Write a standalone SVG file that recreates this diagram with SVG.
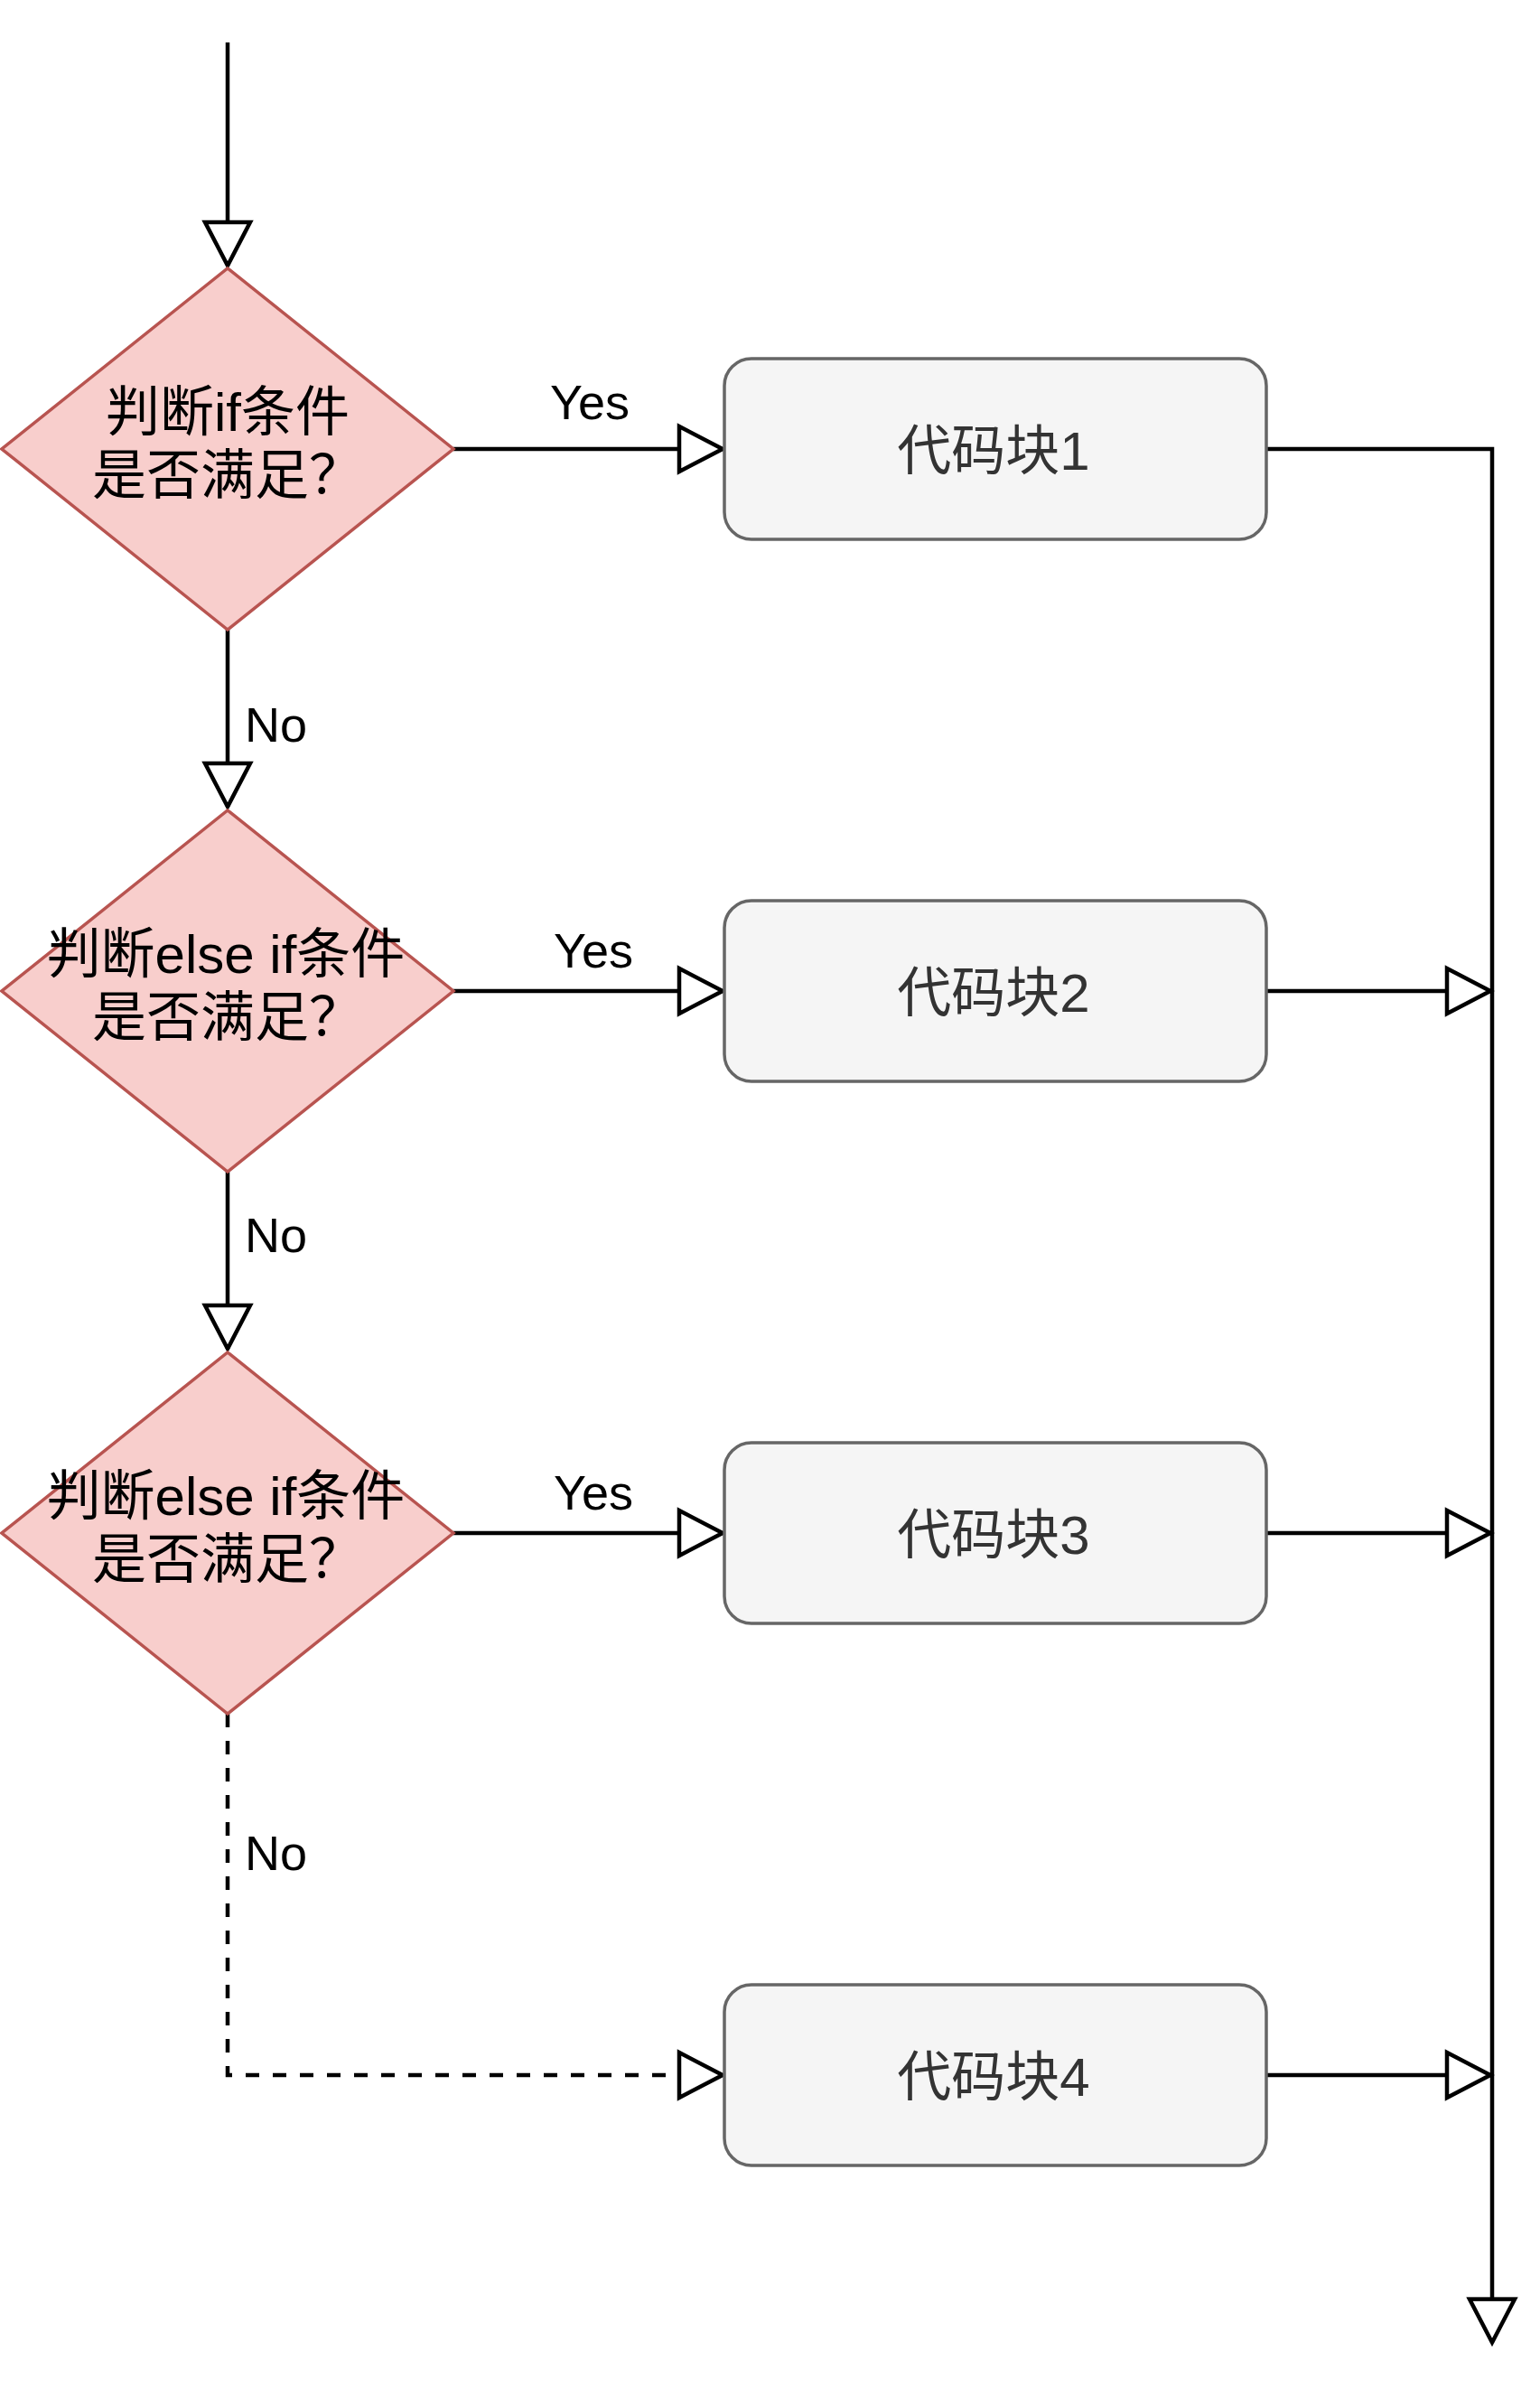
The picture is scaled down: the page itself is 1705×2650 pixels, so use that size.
<svg xmlns="http://www.w3.org/2000/svg" width="1705" height="2650" viewBox="0 0 1705 2650">
  <style>
    .dia { fill: #f8cecc; stroke: #b85450; stroke-width: 3.5; }
    .box { fill: #f5f5f5; stroke: #666666; stroke-width: 3.5; }
    .conn { fill: none; stroke: #000000; stroke-width: 4.5; }
    .dash { stroke-dasharray: 15 15; }
    .dtxt { font-family: "Liberation Sans", "Noto Sans CJK SC", sans-serif; font-size: 60px; fill: #000000; text-anchor: middle; }
    .btxt { font-family: "Liberation Sans", "Noto Sans CJK SC", sans-serif; font-size: 60px; fill: #333333; text-anchor: middle; }
    .lbl { font-family: "Liberation Sans", "Noto Sans CJK SC", sans-serif; font-size: 54px; fill: #000000; }
  </style>
  <defs>
    <marker id="arr" markerUnits="userSpaceOnUse" markerWidth="60" markerHeight="60" refX="48" refY="25" orient="auto" overflow="visible">
      <path d="M0,0 L48,25 L0,50 Z" fill="#ffffff" stroke="#000000" stroke-width="4.5" stroke-dasharray="none"/>
    </marker>
  </defs>
  <rect width="1705" height="2650" fill="#ffffff"/>

  <g id="connectors">
    <path class="conn" d="M252,47 L252,294" marker-end="url(#arr)"/>
    <path class="conn" d="M502,497 L800,497" marker-end="url(#arr)"/>
    <path class="conn" d="M252,697 L252,893" marker-end="url(#arr)"/>
    <path class="conn" d="M502,1097 L800,1097" marker-end="url(#arr)"/>
    <path class="conn" d="M252,1297 L252,1493" marker-end="url(#arr)"/>
    <path class="conn" d="M502,1697 L800,1697" marker-end="url(#arr)"/>
    <path class="conn dash" d="M252,1897 L252,2297 L800,2297" marker-end="url(#arr)"/>
    <path class="conn" d="M1402,497 L1652,497 L1652,2593" marker-end="url(#arr)"/>
    <path class="conn" d="M1402,1097 L1650,1097" marker-end="url(#arr)"/>
    <path class="conn" d="M1402,1697 L1650,1697" marker-end="url(#arr)"/>
    <path class="conn" d="M1402,2297 L1650,2297" marker-end="url(#arr)"/>
    <text class="lbl" x="609" y="464">Yes</text>
    <text class="lbl" x="613" y="1071">Yes</text>
    <text class="lbl" x="613" y="1671">Yes</text>
    <text class="lbl" x="271" y="821">No</text>
    <text class="lbl" x="271" y="1386">No</text>
    <text class="lbl" x="271" y="2070">No</text>
  </g>

  <g id="cond1">
    <polygon class="dia" points="252,297 502,497 252,697 2,497"/>
    <text class="dtxt" x="252" y="477">判断if条件</text>
    <text class="dtxt" x="252" y="547">是否满足？</text>
  </g>
  <g id="cond2">
    <polygon class="dia" points="252,897 502,1097 252,1297 2,1097"/>
    <text class="dtxt" x="250" y="1077">判断else if条件</text>
    <text class="dtxt" x="252" y="1147">是否满足？</text>
  </g>
  <g id="cond3">
    <polygon class="dia" points="252,1497 502,1697 252,1897 2,1697"/>
    <text class="dtxt" x="250" y="1677">判断else if条件</text>
    <text class="dtxt" x="252" y="1747">是否满足？</text>
  </g>

  <g id="block1">
    <rect class="box" x="802" y="397" width="600" height="200" rx="30" ry="30"/>
    <text class="btxt" x="1100" y="520">代码块1</text>
  </g>
  <g id="block2">
    <rect class="box" x="802" y="997" width="600" height="200" rx="30" ry="30"/>
    <text class="btxt" x="1100" y="1120">代码块2</text>
  </g>
  <g id="block3">
    <rect class="box" x="802" y="1597" width="600" height="200" rx="30" ry="30"/>
    <text class="btxt" x="1100" y="1720">代码块3</text>
  </g>
  <g id="block4">
    <rect class="box" x="802" y="2197" width="600" height="200" rx="30" ry="30"/>
    <text class="btxt" x="1100" y="2320">代码块4</text>
  </g>
</svg>
